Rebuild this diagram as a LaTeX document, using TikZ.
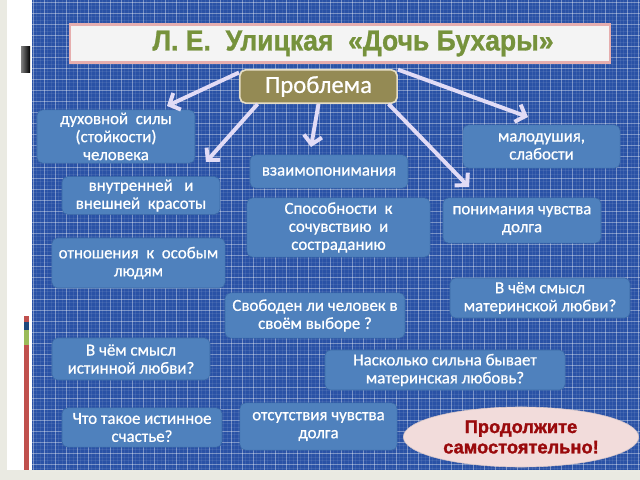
\documentclass[tikz,border=0pt]{standalone}
\usepackage{fontspec}
\setmainfont{Carlito}
\newfontfamily\boxfont[FakeBold=0.7]{Carlito}
\newfontfamily\titlefont[FakeStretch=0.92,FakeBold=1]{Liberation Sans}
\newfontfamily\heavyfont[FakeBold=1.5]{Liberation Sans}
\usetikzlibrary{shapes.geometric,arrows.meta}

\definecolor{bgblue}{HTML}{2A52A6}
\definecolor{pagegray}{HTML}{EAEAE2}
\definecolor{boxfill}{HTML}{4F81BD}
\definecolor{boxline}{HTML}{3B6AA6}
\definecolor{olive}{HTML}{948A54}
\definecolor{oliveline}{HTML}{E6DEC6}
\definecolor{titlefill}{HTML}{F4F4F4}
\definecolor{titleline}{HTML}{E6AEAE}
\definecolor{titlegreen}{HTML}{76923C}
\definecolor{arrowcol}{HTML}{E2DCF6}
\definecolor{pinkfill}{HTML}{F2DCDB}
\definecolor{darkred}{HTML}{9A0A0C}
\definecolor{stripred}{HTML}{C0504D}
\definecolor{stripblue}{HTML}{1F497D}
\definecolor{stripgreen}{HTML}{9BBB59}

\begin{document}
\begin{tikzpicture}[x=0.025cm,y=-0.025cm]
    \tikzstyle{box} = [draw=boxline, fill=boxfill, rounded corners=4pt, text=white,
                       align=center, inner sep=2pt, font=\boxfont\fontsize{12}{12.8}\selectfont]
    \tikzstyle{arrow} = [draw=arrowcol, line width=2.8pt, -{Straight Barb[length=6pt,width=13pt]}]
    \tikzstyle{majorgrid} = [draw=white, opacity=0.32, line width=0.55pt]
    \tikzstyle{minorgrid} = [draw=white, opacity=0.08, line width=0.3pt]
    \useasboundingbox (0,0) rectangle (640,480);

    % Page behind the slide
    \fill[pagegray] (0,0) rectangle (640,480);
    \fill[white] (7,0) rectangle (32,470);
    \shade[left color=gray, right color=black] (21,46) rectangle (30,72);
    \fill[stripred] (24,316) rectangle (29,322);
    \fill[stripblue] (24,322) rectangle (29,330);
    \fill[stripgreen] (24,330) rectangle (29,345);
    \fill[stripred] (24,345) rectangle (29,470);

    % Blue squared paper
    \fill[bgblue] (32,0) rectangle (640,470);
    \foreach \i in {0,...,165} {
      \draw[minorgrid] ({33+\i*3.667},0) -- ({33+\i*3.667},470);
    }
    \foreach \i in {0,...,128} {
      \draw[minorgrid] (32,{2+\i*3.667}) -- (640,{2+\i*3.667});
    }
    \foreach \gx in {33,44,...,640} \draw[majorgrid] (\gx,0) -- (\gx,470);
    \foreach \gy in {2,13,...,470} \draw[majorgrid] (32,\gy) -- (640,\gy);

    % Title
    \node [draw=titleline, line width=2pt, fill=titlefill, minimum width=13.5cm,
           minimum height=0.93cm, text=titlegreen,
           font=\titlefont\bfseries\fontsize{20.5}{24}\selectfont]
          (title) at (340,43.5) {\hspace*{0.65cm}Л. Е.~~Улицкая~~«Дочь Бухары»};

    % Centre box
    \node [draw=oliveline, line width=1.2pt, fill=olive, rounded corners=4pt, text=white,
           minimum width=3.93cm, minimum height=0.83cm, font=\boxfont\fontsize{17.5}{20}\selectfont]
          (prob) at (318.5,86.5) {Проблема};

    % Left column
    \node [box, minimum width=3.95cm, minimum height=1.33cm] (strength) at (116,136.5)
          {духовной~~силы\\(стойкости)\\человека};
    \node [box, minimum width=3.95cm, minimum height=0.88cm] (beauty) at (141,195.5)
          {внутренней~~~и\\внешней~~красоты};
    \node [box, minimum width=4.33cm, minimum height=1.25cm] (special) at (138.5,263)
          {отношения~~к~~особым\\людям};
    \node [box, minimum width=3.95cm, minimum height=1.05cm] (truelove) at (131,359)
          {В чём смысл\\истинной любви?};
    \node [box, minimum width=4.0cm, minimum height=0.98cm] (happy) at (142,427.5)
          {Что такое истинное\\счастье?};

    % Middle column
    \node [box, minimum width=3.95cm, minimum height=0.83cm] (mutual) at (329,171.5)
          {взаимопонимания};
    \node [box, minimum width=4.58cm, minimum height=1.48cm] (compassion) at (338.5,227.5)
          {Способности~~к\\сочувствию~~и\\состраданию};
    \node [box, minimum width=4.5cm, minimum height=1.13cm] (free) at (315,315.5)
          {Свободен ли человек в\\своём выборе ?};
    \node [box, minimum width=6.0cm, minimum height=1.0cm] (howstrong) at (445,370)
          {Насколько сильна бывает\\материнская любовь?};
    \node [box, minimum width=3.93cm, minimum height=1.18cm] (noduty) at (318.5,426.5)
          {отсутствия чувства\\долга};

    % Right column
    \node [box, minimum width=3.93cm, minimum height=1.08cm] (weak) at (541.5,146.5)
          {малодушия,\\слабости};
    \node [box, minimum width=3.95cm, minimum height=1.13cm] (duty) at (522,220.5)
          {понимания чувства\\долга};
    \node [box, minimum width=4.5cm, minimum height=1.0cm] (motherlove) at (540,298)
          {В чём смысл\\материнской любви?};

    % Ellipse at the bottom right
    \node [draw=pinkfill!80!gray, fill=pinkfill, ellipse, inner sep=0pt,
           minimum width=5.88cm, minimum height=1.5cm, align=center, text=darkred,
           font=\heavyfont\bfseries\fontsize{13}{14.5}\selectfont]
          (more) at (521,437) {Продолжите\\самостоятельно!};

    % Arrows from the centre box
    \coordinate (tipA) at (167,106);
    \coordinate (tipB) at (206,162);
    \coordinate (tipC) at (311,147);
    \coordinate (tipD) at (469,187);
    \coordinate (tipE) at (528,117);
    \draw [arrow] (prob.170) -- (tipA);
    \draw [arrow] (prob.196) -- (tipB);
    \draw [arrow] (prob.south) -- (tipC);
    \draw [arrow] (prob.-14) -- (tipD);
    \draw [arrow] (prob.12) -- (tipE);
\end{tikzpicture}
\end{document}
